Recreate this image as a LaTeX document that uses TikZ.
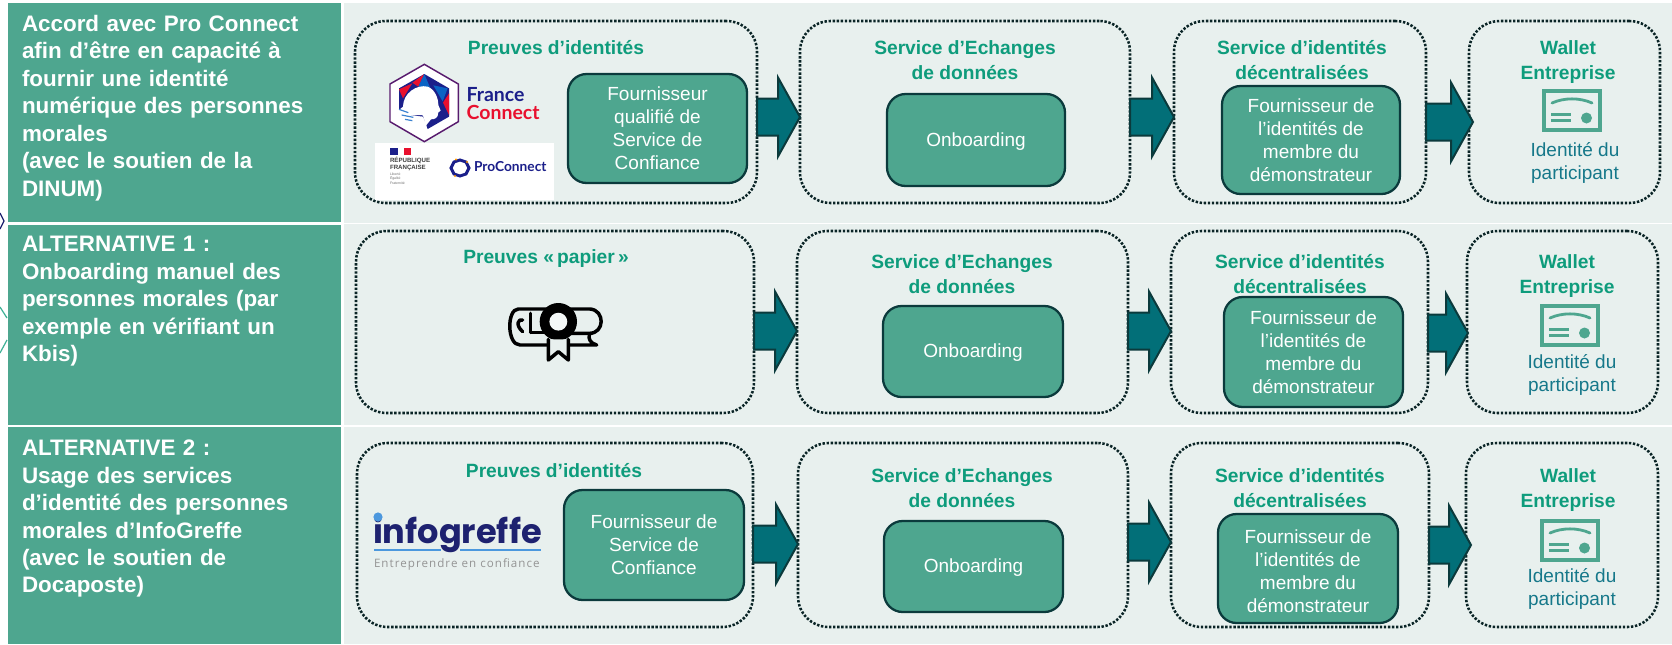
\documentclass[tikz,border=0pt]{standalone}
\usepackage{fontspec}
\setmainfont{Liberation Sans}
\newfontfamily\panelfont{Liberation Sans}[WordSpace=1.2]
\newfontfamily\logofont{Poppins}
\newfontfamily\fclogofont{Lato}
\newfontfamily\tagfont{Open Sans}[LetterSpace=9]
\usetikzlibrary{calc}
\definecolor{panelteal}{HTML}{4EA68F}
\definecolor{lightbg}{HTML}{E8F0EE}
\definecolor{titlegreen}{HTML}{0E9C7C}
\definecolor{walletteal}{HTML}{16788A}
\definecolor{arrowfill}{HTML}{026F78}
\definecolor{darkedge}{HTML}{0B3A3C}
\definecolor{dotcolor}{HTML}{0A2426}
\definecolor{fcblue}{HTML}{1B1F8A}
\definecolor{fcmid}{HTML}{0A63C4}
\definecolor{fcred}{HTML}{E8102E}
\definecolor{navy}{HTML}{1E2270}
\definecolor{igblue}{HTML}{4C98DE}
\tikzset{
  every node/.style={inner sep=0pt,outer sep=0pt},
  panelstyle/.style={fill=panelteal,draw=none},
  paneltext/.style={anchor=north west,align=left,text=white,font=\panelfont\fontsize{16.8}{20.6}\selectfont\bfseries},
  dotbox/.style={draw=dotcolor,line width=1.9pt,dash pattern=on 1.8pt off 1.25pt,rounded corners=23pt},
  innerbox/.style={draw=darkedge,fill=panelteal,line width=1.7pt,rounded corners=14pt,text=white,align=center,font=\fontsize{14.25}{17.2}\selectfont},
  titlelabel/.style={text=titlegreen,align=center,font=\fontsize{14.4}{18.8}\selectfont\bfseries},
  walletlabel/.style={text=walletteal,align=center,font=\fontsize{14.25}{17.2}\selectfont},
  blockarrow/.style={fill=arrowfill,draw=darkedge,line width=1.5pt,line join=miter},
  iconline/.style={draw=panelteal,line width=2.1pt}
}
% name, style, x1, y1, x2, y2, text
\newcommand{\placebox}[7]{%
  \node[#2,minimum width={(#5-#3)*0.75pt},minimum height={(#6-#4)*0.75pt}] (#1) at ({(#3+#5)/2},{(#4+#6)/2}) {#7};}
% from, to, center y, overlap of the tip past the target's edge
\newcommand{\blockarr}[4]{%
  \coordinate (tmpS) at (#1.east |- 0,#3);
  \coordinate (tmpT) at ($(#2.west |- 0,#3)+(#4,0)$);
  \draw[blockarrow] ($(tmpS)+(0,-18.5)$) -- ($(tmpT)+(-22,-18.5)$) -- ($(tmpT)+(-22,-39.5)$) -- (tmpT)
    -- ($(tmpT)+(-22,39.5)$) -- ($(tmpT)+(-22,18.5)$) -- ($(tmpS)+(0,18.5)$) -- cycle;}
% wallet certificate icon, x, y of top-left
\newcommand{\walleticon}[2]{%
  \begin{scope}[shift={(#1,#2)}]
    \draw[iconline,line width=2.6pt] (2,2) rectangle (58,41);
    \draw[iconline,line cap=round] (10,14) .. controls (22,8.5) and (38,8.5) .. (50,14);
    \draw[iconline] (9,25.5) -- (29,25.5) (9,31.5) -- (29,31.5);
    \fill[panelteal] (44.5,29) circle (5.5);
  \end{scope}}
\begin{document}
\begin{tikzpicture}[x=0.75pt,y=-0.75pt]
\useasboundingbox (0,0) rectangle (1672,644);
\fill[white] (0,0) rectangle (1672,644);
% side marks
\draw[navy,line width=0.9pt] (0,213) -- (4,221) -- (0,229);
\draw[titlegreen!80!white,line width=0.9pt] (0,307) -- (7,318) (7,340) -- (0,353);
% panels
\fill[lightbg] (344,3) rectangle (1672,644);
\draw[white,line width=1.4pt] (344,223.5) -- (1672,223.5) (344,426) -- (1672,426);
\fill[panelstyle] (8,3) rectangle (341,222);
\fill[panelstyle] (8,225) rectangle (341,425);
\fill[panelstyle] (8,427) rectangle (341,644);
\node[paneltext] (lab1) at (22,15) {Accord avec Pro Connect\\afin d’être en capacité à\\fournir une identité\\numérique des personnes\\morales\\(avec le soutien de la\\DINUM)};
\node[paneltext] (lab2) at (22,236.5) {ALTERNATIVE 1 :\\Onboarding manuel des\\personnes morales (par\\exemple en vérifiant un\\Kbis)};
\node[paneltext] (lab3) at (22,440) {ALTERNATIVE 2 :\\Usage des services\\d’identité des personnes\\morales d’InfoGreffe\\(avec le soutien de\\Docaposte)};
% ---- row 1
\placebox{a1}{dotbox}{355}{21}{757}{203}{}
\placebox{a2}{dotbox}{800}{21}{1130}{203}{}
\placebox{a3}{dotbox}{1174}{21}{1426}{203}{}
\placebox{a4}{dotbox}{1469}{21}{1660}{203}{}
% ---- row 2
\placebox{b1}{dotbox}{356}{231}{754}{413}{}
\placebox{b2}{dotbox}{797}{231}{1128}{413}{}
\placebox{b3}{dotbox}{1171}{231}{1428}{413}{}
\placebox{b4}{dotbox}{1467}{231}{1658}{413}{}
% ---- row 3
\placebox{c1}{dotbox}{357}{443}{753}{627}{}
\placebox{c2}{dotbox}{798}{443}{1128}{627}{}
\placebox{c3}{dotbox}{1171}{443}{1429}{627}{}
\placebox{c4}{dotbox}{1466}{443}{1658}{627}{}
% inner boxes
\placebox{a1i}{innerbox}{568}{74}{747}{183}{Fournisseur\\qualifié de\\Service de\\Confiance}
\placebox{a2i}{innerbox}{887}{94}{1065}{186}{\rule{0pt}{12.5pt}Onboarding}
\placebox{a3i}{innerbox}{1222}{86}{1400}{194}{Fournisseur de\\l’identités de\\membre du\\démonstrateur}
\placebox{b2i}{innerbox}{883}{306}{1063}{397}{\rule{0pt}{12.5pt}Onboarding}
\placebox{b3i}{innerbox}{1224}{297}{1403}{407}{Fournisseur de\\l’identités de\\membre du\\démonstrateur}
\placebox{c1i}{innerbox}{564}{490}{744}{600}{Fournisseur de\\Service de\\Confiance}
\placebox{c2i}{innerbox}{884}{521}{1063}{612}{\rule{0pt}{12.5pt}Onboarding}
\placebox{c3i}{innerbox}{1218}{514}{1398}{623}{\rule{0pt}{14pt}Fournisseur de\\l’identités de\\membre du\\démonstrateur}
% titles
\node[titlelabel] (ta1) at (556,48) {Preuves d’identités};
\node[titlelabel] (ta2) at (965,60) {Service d’Echanges\\de données};
\node[titlelabel] (ta3) at (1302,60) {Service d’identités\\décentralisées};
\node[titlelabel] (ta4) at (1568,62) {Wallet\\Entreprise};
\node[titlelabel] (tb1) at (546,259) {Preuves «\,papier\,»};
\node[titlelabel] (tb2) at (962,274) {Service d’Echanges\\de données};
\node[titlelabel] (tb3) at (1300,274) {Service d’identités\\décentralisées};
\node[titlelabel] (tb4) at (1567,276) {Wallet\\Entreprise};
\node[titlelabel] (tc1) at (554,471) {Preuves d’identités};
\node[titlelabel] (tc2) at (962,488) {Service d’Echanges\\de données};
\node[titlelabel] (tc3) at (1300,488) {Service d’identités\\décentralisées};
\node[titlelabel] (tc4) at (1568,490) {Wallet\\Entreprise};
% wallet
\walleticon{1542}{89}
\walleticon{1540}{304}
\walleticon{1540}{519}
\node[walletlabel] (wa) at (1575,163) {Identité du\\participant};
\node[walletlabel] (wb) at (1572,375) {Identité du\\participant};
\node[walletlabel] (wc) at (1572,589) {Identité du\\participant};
% block arrows
\blockarr{a1}{a2}{117}{0}
\blockarr{a2}{a3}{117}{0}
\blockarr{a3}{a4}{122}{4}
\blockarr{b1}{b2}{331}{0}
\blockarr{b2}{b3}{331}{0}
\blockarr{b3}{b4}{333}{1}
\blockarr{c1}{c2}{544}{0}
\blockarr{c2}{c3}{542}{0}
\blockarr{c3}{c4}{545}{5}
% France Connect logo
\begin{scope}[shift={(375,60)},x=0.25pt,y=-0.25pt]
  \fill[white] (148,13) -- (250,72) -- (250,185) -- (148,245) -- (45,185) -- (45,72) -- cycle;
  \draw[line width=1.1pt,draw=fcblue!70!fcred] (148,13) -- (250,72) -- (250,185) -- (148,245) -- (45,185) -- (45,72) -- cycle;
  \fill[fcblue] (148,42) -- (222,85) -- (222,170) -- (158,207) -- (145,170) -- (72,160) -- (72,85) -- cycle;
  \fill[fcred] (72,88) -- (112,70) -- (84,115) -- cycle;
  \fill[fcred] (148,42) -- (130,80) -- (112,68) -- cycle;
  \fill[fcmid] (148,42) -- (165,82) -- (130,80) -- cycle;
  \fill[fcmid] (175,76) -- (218,85) -- (203,124) -- cycle;
  \fill[fcred] (222,100) -- (222,165) -- (204,128) -- cycle;
  \fill[white] (84,140) .. controls (84,100) and (125,72) .. (158,80) .. controls (180,88) and (190,115) .. (190,135)
     -- (197,152) -- (190,157) .. controls (190,175) and (178,178) .. (168,178) -- (152,198) .. controls (146,185) and (150,172) .. (142,165)
     -- (72,165) -- (72,150) -- cycle;
  \draw[fcmid!80!white,line width=0.9pt] (72,148) -- (100,158) (80,165) -- (115,172) (90,178) -- (112,182);
  \node[anchor=west,text=fcblue,font=\fclogofont\bfseries\fontsize{14.6}{15}\selectfont] (fc1) at (275,105) {France};
  \node[anchor=west,text=fcred,font=\fclogofont\bfseries\fontsize{14.6}{15}\selectfont] (fc2) at (275,156) {Connect};
\end{scope}
% white logo band
\fill[white] (375,143) rectangle (554,200);
\fill[fcblue] (390,148) rectangle (398,154.5);
\fill[fcred] (404,148) rectangle (411,154.5);
\node[anchor=north west,align=left,text=black!75,font=\fontsize{4.6}{5.6}\selectfont\bfseries] (rf) at (390,157) {RÉPUBLIQUE\\FRANÇAISE};
\node[anchor=north west,align=left,text=black!55,font=\fontsize{2.6}{3.2}\selectfont] (rfd) at (390,173) {Liberté\\Égalité\\Fraternité};
\draw[fcblue,line width=2.2pt] (460,160) -- (466,162) -- (469,168) -- (466,174) -- (460,176) -- (454,174) -- (451,168) -- (454,162) -- cycle;
\fill[orange!80!yellow] (456,159.5) circle (1.1) (467,162) circle (1.1) (455,176) circle (1.1);
\node[anchor=west,text=fcblue,font=\fclogofont\bfseries\fontsize{10.3}{11}\selectfont] (pc) at (474,167) {ProConnect};
% diploma
\begin{scope}[shift={(440,270)},x=0.25pt,y=-0.25pt,line width=2.6pt,line cap=round,line join=round]
  \draw (320,117) -- (235,117) .. controls (200,117) and (200,225) .. (240,225) -- (470,225) .. controls (450,220) and (445,205) .. (448,195);
  \draw (390,117) -- (450,117) .. controls (495,120) and (495,190) .. (448,190) -- (385,190);
  \draw (320,187) -- (272,187);
  \draw (272,130) -- (272,187);
  \draw (248,185) .. controls (225,165) and (235,145) .. (248,150);
  \draw[fill=black,line width=1pt] (355,155) circle (13.5pt);
  \fill[lightbg!50!white] (355,155) circle (6.7pt);
  \draw[fill=lightbg] (325,208) -- (325,270) -- (355,245) -- (385,270) -- (385,208);
\end{scope}
% infogreffe
\node[anchor=base west,text=navy,font=\logofont\bfseries\fontsize{25.2}{28}\selectfont] (ig) at (373,543) {infogreffe};
\fill[igblue] (378,517) circle (4.6);
\draw[igblue,line width=1.2pt] (374,550) -- (441,550) (460,550) -- (541,550);
\node[anchor=west,text=black!42,font=\tagfont\fontsize{8.7}{10}\selectfont] (igt) at (374,564) {Entreprendre en confiance};
\end{tikzpicture}
\end{document}
